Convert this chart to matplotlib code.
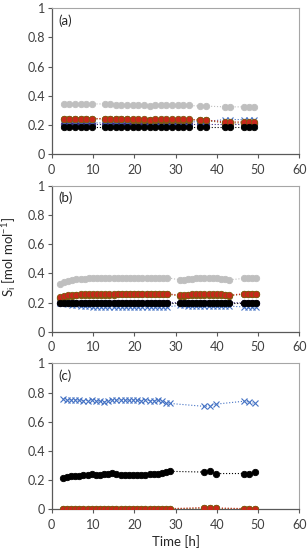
import numpy as np
import matplotlib
matplotlib.use("Agg")
import matplotlib.pyplot as plt

plt.rcParams['font.family'] = ['Lato', 'DejaVu Sans']

# ---------------- Panel (a) ----------------
t_a = [3.0, 4.3, 5.6, 7.0, 8.3, 9.7,
       12.8, 14.2, 15.5, 16.9, 18.2, 19.6, 21.0, 22.3, 23.7, 25.0, 26.4, 27.8, 29.1, 30.5, 31.8, 33.2,
       36.0, 37.3,
       42.0, 43.3,
       46.5, 47.8, 49.1]
gray_a = [0.345]*6 + [0.345, 0.345, 0.34, 0.34, 0.34, 0.34, 0.34, 0.335, 0.33, 0.335, 0.335, 0.335,
                      0.335, 0.335, 0.335, 0.335] + [0.33, 0.33] + [0.325, 0.325] + [0.325, 0.325, 0.325]
red_a = [0.245]*6 + [0.245, 0.245, 0.245, 0.245, 0.245, 0.24, 0.24, 0.24, 0.235, 0.24, 0.24, 0.24,
                     0.24, 0.24, 0.24, 0.24] + [0.235, 0.235] + [0.222, 0.222] + [0.222, 0.222, 0.222]
brown_a = [0.242]*6 + [0.242]*5 + [0.238]*11 + [0.232, 0.232] + [0.215, 0.215] + [0.215, 0.215, 0.215]
blue_a = [0.215]*6 + [0.215]*8 + [0.22]*8 + [0.225, 0.225] + [0.238, 0.238] + [0.238, 0.238, 0.238]
navy_a = [0.205]*29
black_a = [0.19]*29

# ---------------- Panel (b) ----------------
t_b = list(range(2, 29)) + list(range(31, 44)) + [46.5, 47.5, 48.5, 49.5]
gray_b = ([0.33, 0.34, 0.35, 0.355, 0.36, 0.36, 0.362, 0.365, 0.365, 0.365, 0.367, 0.367, 0.368,
           0.368, 0.368, 0.368, 0.368, 0.37, 0.37, 0.37, 0.37, 0.37, 0.37, 0.37, 0.37, 0.37, 0.37]
          + [0.355, 0.355, 0.36, 0.36, 0.365, 0.365, 0.365, 0.365, 0.365, 0.365, 0.36, 0.36, 0.355]
          + [0.365, 0.365, 0.365, 0.365])
red_b = ([0.235, 0.245, 0.25, 0.25, 0.252, 0.255, 0.255, 0.255, 0.255, 0.255, 0.255, 0.257, 0.257,
          0.257, 0.258, 0.26, 0.26, 0.26, 0.26, 0.26, 0.26, 0.26, 0.26, 0.26, 0.26, 0.26, 0.26]
         + [0.25, 0.25, 0.252, 0.255, 0.255, 0.255, 0.255, 0.255, 0.255, 0.255, 0.255, 0.252, 0.25]
         + [0.26, 0.26, 0.26, 0.26])
brown_b = ([0.23, 0.24, 0.245, 0.247, 0.249, 0.252, 0.252, 0.252, 0.252, 0.252, 0.252, 0.254, 0.254,
            0.254, 0.255, 0.257, 0.257, 0.257, 0.257, 0.257, 0.257, 0.257, 0.257, 0.257, 0.257, 0.257, 0.257]
           + [0.245, 0.247, 0.249, 0.25, 0.25, 0.25, 0.25, 0.25, 0.25, 0.25, 0.25, 0.248, 0.246]
           + [0.257, 0.257, 0.257, 0.257])
navy_b = [0.197]*27 + [0.2]*13 + [0.197]*4
black_b = [0.2]*27 + [0.2]*13 + [0.2]*4
blue_b = ([0.2, 0.195, 0.19, 0.185, 0.18, 0.178, 0.175, 0.173, 0.172, 0.172, 0.171, 0.171, 0.17,
           0.17, 0.17, 0.17, 0.17, 0.17, 0.17, 0.17, 0.17, 0.17, 0.17, 0.17, 0.17, 0.17, 0.17]
          + [0.18, 0.18, 0.178, 0.176, 0.175, 0.175, 0.175, 0.175, 0.175, 0.175, 0.175, 0.175, 0.175]
          + [0.17, 0.17, 0.17, 0.17])

# ---------------- Panel (c) ----------------
t_c = [2.7 + k for k in range(27)] + [37.0, 38.3, 39.7] + [46.5, 47.8, 49.2]
blue_c = ([0.755, 0.75, 0.75, 0.75, 0.748, 0.745, 0.745, 0.748, 0.745, 0.74, 0.735, 0.745, 0.748,
           0.748, 0.748, 0.748, 0.748, 0.748, 0.748, 0.745, 0.748, 0.745, 0.745, 0.748, 0.74, 0.73, 0.725]
          + [0.705, 0.71, 0.72] + [0.74, 0.735, 0.725])
black_c = ([0.215, 0.22, 0.225, 0.228, 0.23, 0.232, 0.235, 0.24, 0.238, 0.235, 0.24, 0.245, 0.25,
            0.24, 0.235, 0.235, 0.235, 0.235, 0.235, 0.235, 0.238, 0.24, 0.24, 0.24, 0.25, 0.255, 0.26]
           + [0.255, 0.26, 0.245] + [0.245, 0.245, 0.255])
red_c = [0.005]*27 + [0.012, 0.012, 0.01] + [0.005, 0.005, 0.005]
brown_c = [0.003]*27 + [0.008, 0.008, 0.006] + [0.003, 0.003, 0.003]

panel_labels = ['(a)', '(b)', '(c)']
x_ticks = [0, 10, 20, 30, 40, 50, 60]
y_ticks = [0, 0.2, 0.4, 0.6, 0.8, 1.0]
y_ticklabels = ['0', '0.2', '0.4', '0.6', '0.8', '1']

C_GRAY = '#BFBFBF'
C_RED = '#C8281A'
C_BROWN = '#7F5A10'
C_NAVY = '#3A2A80'
C_BLUE = '#4472C4'
C_BLACK = '#000000'

fig = plt.figure(figsize=(3.08, 5.5), dpi=100)
L, W, H = 51.7/308, (299.3-51.7)/308, 146/550
bottoms = [1-154.3/550, 1-331.7/550, 1-509.3/550]
axes = [fig.add_axes([L, b, W, H]) for b in bottoms]

ms = 4.6
def circ(ax, t, y, c, z, ec=None):
    ax.plot(t, y, linestyle=':', linewidth=0.8, color=c, marker='o', markersize=ms,
            markerfacecolor=c, markeredgecolor=ec or c, markeredgewidth=0.6, zorder=z)

def cross(ax, t, y, c, z):
    ax.plot(t, y, linestyle=':', linewidth=0.8, color=c, marker='x', markersize=ms,
            markeredgewidth=0.8, zorder=z)

# (a)
ax = axes[0]
circ(ax, t_a, gray_a, C_GRAY, 2)
circ(ax, t_a, navy_a, C_NAVY, 3)
cross(ax, t_a, blue_a, C_BLUE, 4)
circ(ax, t_a, brown_a, C_BROWN, 5)
circ(ax, t_a, red_a, C_RED, 6, ec=C_BROWN)
circ(ax, t_a, black_a, C_BLACK, 7)

# (b)
ax = axes[1]
circ(ax, t_b, gray_b, C_GRAY, 2)
circ(ax, t_b, navy_b, C_NAVY, 3)
cross(ax, t_b, blue_b, C_BLUE, 4)
circ(ax, t_b, brown_b, C_BROWN, 5)
circ(ax, t_b, red_b, C_RED, 6, ec=C_BROWN)
circ(ax, t_b, black_b, C_BLACK, 7)

# (c)
ax = axes[2]
cross(ax, t_c, blue_c, C_BLUE, 4)
circ(ax, t_c, brown_c, C_BROWN, 5)
circ(ax, t_c, red_c, C_RED, 6, ec=C_BROWN)
circ(ax, t_c, black_c, C_BLACK, 7)

for ax, lab in zip(axes, panel_labels):
    ax.set_xlim(0, 60)
    ax.set_ylim(0, 1)
    ax.set_xticks(x_ticks)
    ax.set_yticks(y_ticks)
    ax.set_yticklabels(y_ticklabels)
    ax.tick_params(axis='both', direction='out', length=3, width=0.8, color='#595959',
                   labelsize=9, labelcolor='#404040', pad=2)
    ax.tick_params(axis='x', pad=4)
    for s in ['top', 'right']:
        ax.spines[s].set_color('#A6A6A6')
        ax.spines[s].set_linewidth(0.8)
    for s in ['left', 'bottom']:
        ax.spines[s].set_color('#595959')
        ax.spines[s].set_linewidth(0.9)
    ax.text(0.025, 0.915, lab, transform=ax.transAxes, fontsize=9.5, color='#262626',
            ha='left', va='center')
    for t in ax.get_xticklabels():
        t.set_clip_on(False)

fig.text(0.03, 1-257/550, 'S$_\\mathregular{i}$ [mol mol$^\\mathregular{-1}$]', rotation=90,
         ha='center', va='center', fontsize=9.5, color='#262626')
fig.text((51.7+299.3)/2/308, 1-541.7/550, 'Time [h]', ha='center', va='center',
         fontsize=9.5, color='#262626')

fig.savefig('out.png', dpi=100)
